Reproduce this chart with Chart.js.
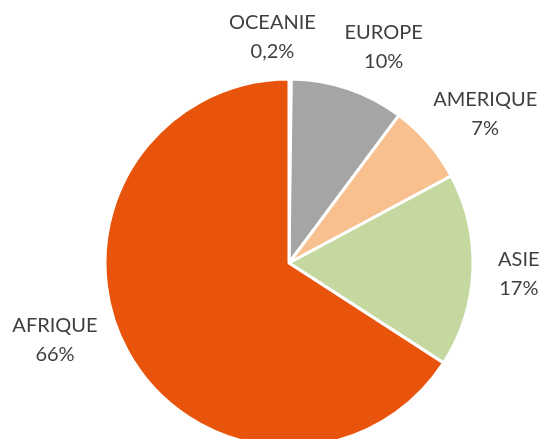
<!DOCTYPE html>
<html>
<head>
<meta charset="utf-8">
<script src="https://cdn.jsdelivr.net/npm/chart.js@4"></script>
<style>
  html, body { margin: 0; padding: 0; background: #fff; }
  #wrap { width: 542px; height: 439px; }
</style>
</head>
<body>
<div id="wrap"><canvas id="continentChart" width="542" height="439"></canvas></div>
<script>
// Répartition par continent
const continents = ['OCEANIE', 'EUROPE', 'AMERIQUE', 'ASIE', 'AFRIQUE'];
const shares = [0.2, 10, 7, 17, 66];
const shareLabels = ['0,2%', '10%', '7%', '17%', '66%'];
const sliceColors = ['#4472C4', '#A5A5A5', '#F8C08F', '#C5D89F', '#E8540C'];

// label nudges (px) from the default spot outside each slice
const labelNudge = [[-18, 3], [21, 0], [22, 0], [0, 0], [-32, -34]];

const outsideLabels = {
    id: 'outsideLabels',
    afterDatasetsDraw(chart) {
        const ctx = chart.ctx;
        const meta = chart.getDatasetMeta(0);
        ctx.save();
        ctx.font = "20px 'Lato', sans-serif";
        ctx.fillStyle = '#3f3f3f';
        ctx.textAlign = 'center';
        ctx.textBaseline = 'middle';
        meta.data.forEach((arc, i) => {
            const mid = (arc.startAngle + arc.endAngle) / 2;
            const dist = arc.outerRadius + 46;
            const x = arc.x + Math.cos(mid) * dist + labelNudge[i][0];
            const y = arc.y + Math.sin(mid) * dist + labelNudge[i][1];
            ctx.fillText(continents[i], x, y - 13);
            ctx.fillText(shareLabels[i], x, y + 16);
        });
        ctx.restore();
    }
};

new Chart(document.getElementById('continentChart'), {
    type: 'pie',
    data: {
        labels: continents,
        datasets: [{
            data: shares,
            backgroundColor: sliceColors,
            borderColor: '#ffffff',
            borderWidth: 3,
            radius: 184
        }]
    },
    options: {
        responsive: false,
        animation: false,
        layout: { padding: { left: 36, top: 87, right: 0, bottom: 0 } },
        plugins: {
            legend: { display: false },
            title: { display: false },
            tooltip: { enabled: false }
        }
    },
    plugins: [outsideLabels]
});
</script>
</body>
</html>
